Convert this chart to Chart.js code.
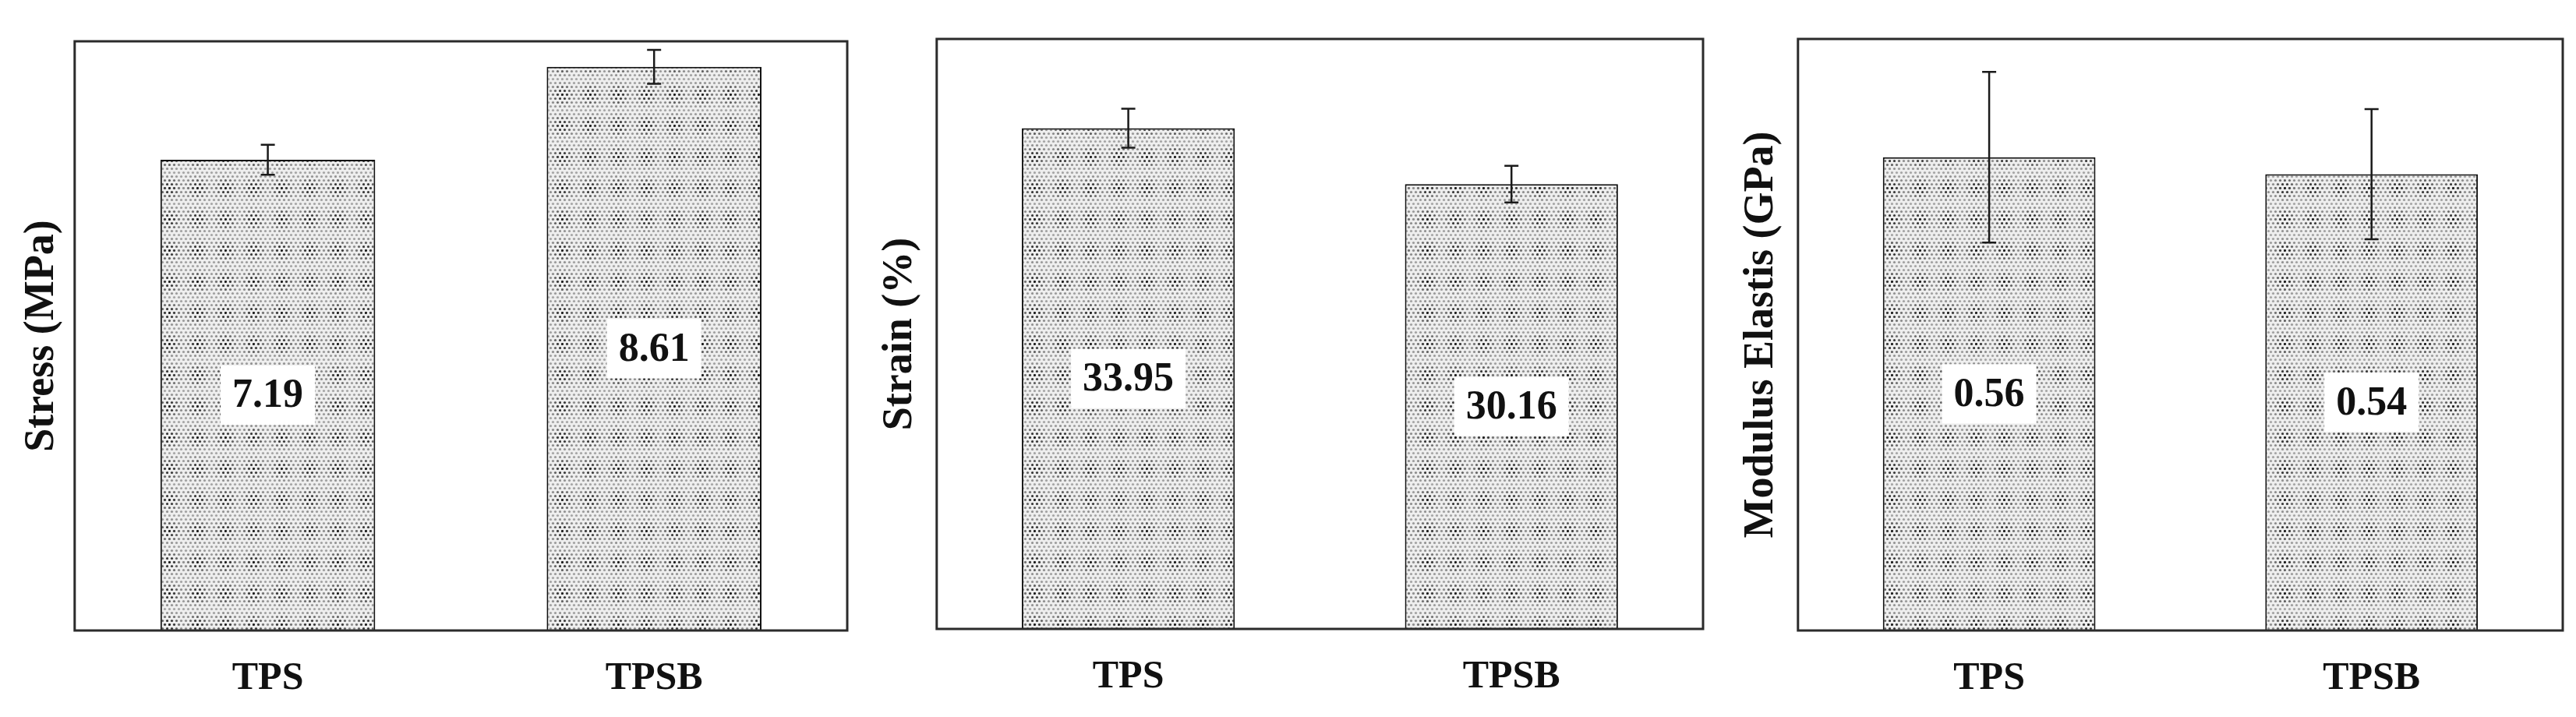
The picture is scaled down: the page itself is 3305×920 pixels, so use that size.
<!DOCTYPE html>
<html>
<head>
<meta charset="UTF-8">
<title>TPS vs TPSB</title>
<style>
  body { margin: 0; background: #fff; }
  #wrap { position: relative; width: 3305px; height: 920px; }
  canvas { position: absolute; top: 0; }
</style>
</head>
<body>
<div id="wrap">
  <canvas id="stress" width="1110" height="920" style="left:0px"></canvas>
  <canvas id="strain" width="1100" height="920" style="left:1110px"></canvas>
  <canvas id="modulus" width="1095" height="920" style="left:2210px"></canvas>
</div>
<script src="https://cdn.jsdelivr.net/npm/chart.js@4.4.0/dist/chart.umd.min.js"></script>
<script>
  // data
  const categories = ['TPS', 'TPSB']
  const stress = [7.19, 8.61]
  const stressErr = [0.23, 0.26]
  const strain = [33.95, 30.16]
  const strainErr = [1.32, 1.24]
  const modulus = [0.56, 0.54]
  const modulusErr = [0.101, 0.077]
  const axisMax = { stress: 9, strain: 40, modulus: 0.7 }

  const fontFamily = '"Liberation Serif", "Times New Roman", serif'

  // dotted plaid fill like the printed figure
  function makePattern() {
    const c = document.createElement('canvas')
    c.width = 36
    c.height = 40
    const g = c.getContext('2d')
    g.fillStyle = '#eeeeee'
    g.fillRect(0, 0, 36, 40)
    for (let y = 0; y < 40; y += 5) {
      const row = y / 5
      for (let x = (row % 2) * 3; x < 36; x += 6) {
        const wx = (Math.cos(2 * Math.PI * x / 36) + 1) / 2
        const wy = (Math.cos(2 * Math.PI * y / 40) + 1) / 2
        const a = 0.35 + 0.55 * wx * wy + 0.1 * wy
        g.fillStyle = 'rgba(30,30,30,' + a.toFixed(2) + ')'
        g.beginPath()
        g.arc(x + 1.5, y + 1.5, 1.6, 0, Math.PI * 2)
        g.fill()
      }
    }
    return c
  }
  const patternTile = makePattern()

  const framePlugin = {
    id: 'frame',
    afterDatasetsDraw(chart, args, opts) {
      const ctx = chart.ctx
      const meta = chart.getDatasetMeta(0)
      const yScale = chart.scales.y
      const errs = opts.errors
      ctx.save()
      // error bars
      ctx.strokeStyle = '#1a1a1a'
      ctx.lineWidth = 2.5
      meta.data.forEach((bar, i) => {
        const v = chart.data.datasets[0].data[i]
        const top = yScale.getPixelForValue(v + errs[i])
        const bot = yScale.getPixelForValue(v - errs[i])
        ctx.beginPath()
        ctx.moveTo(bar.x, top)
        ctx.lineTo(bar.x, bot)
        ctx.moveTo(bar.x - 9, top)
        ctx.lineTo(bar.x + 9, top)
        ctx.moveTo(bar.x - 9, bot)
        ctx.lineTo(bar.x + 9, bot)
        ctx.stroke()
      })
      // value labels in white boxes at mid-bar
      ctx.font = 'bold 52px ' + fontFamily
      ctx.textAlign = 'center'
      ctx.textBaseline = 'middle'
      meta.data.forEach((bar, i) => {
        const v = chart.data.datasets[0].data[i]
        const txt = v.toFixed(2)
        const cy = (bar.y + bar.base) / 2
        const w = ctx.measureText(txt).width + 30
        const h = 76
        ctx.fillStyle = '#ffffff'
        ctx.fillRect(bar.x - w / 2, cy - h / 2, w, h)
        ctx.fillStyle = '#111111'
        ctx.fillText(txt, bar.x, cy + 2)
      })
      // box around plot area
      const a = chart.chartArea
      ctx.strokeStyle = '#2b2b2b'
      ctx.lineWidth = 3
      ctx.strokeRect(a.left, a.top, a.right - a.left, a.bottom - a.top)
      ctx.restore()
    }
  }

  function makeChart(id, values, errors, max, title, pad, titlePad) {
    const ctx = document.getElementById(id).getContext('2d')
    const fill = ctx.createPattern(patternTile, 'repeat')
    return new Chart(ctx, {
      type: 'bar',
      data: {
        labels: categories,
        datasets: [{
          data: values,
          backgroundColor: fill,
          borderColor: '#111111',
          borderWidth: 2,
          categoryPercentage: 1,
          barPercentage: 0.556
        }]
      },
      plugins: [framePlugin],
      options: {
        responsive: false,
        animation: false,
        devicePixelRatio: 1,
        layout: { padding: pad },
        plugins: {
          legend: { display: false },
          tooltip: { enabled: false },
          frame: { errors: errors }
        },
        scales: {
          x: {
            grid: { display: false, drawTicks: false },
            border: { display: false },
            ticks: {
              padding: 32,
              color: '#111111',
              font: { family: fontFamily, size: 50, weight: 'bold' }
            }
          },
          y: {
            min: 0,
            max: max,
            grid: { display: false },
            border: { display: false },
            ticks: { display: false },
            title: {
              display: true,
              text: title,
              color: '#111111',
              padding: { top: 0, bottom: titlePad },
              font: { family: fontFamily, size: 54, weight: 'bold', lineHeight: 1.2 }
            }
          }
        }
      }
    })
  }

  makeChart('stress', stress, stressErr, axisMax.stress, 'Stress (MPa)',
    { left: 22, right: 23, top: 53, bottom: -13 }, 1)
  makeChart('strain', strain, strainErr, axisMax.strain, 'Strain (%)',
    { left: 13, right: 25, top: 50, bottom: -11 }, 6)
  makeChart('modulus', modulus, modulusErr, axisMax.modulus, 'Modulus Elastis (GPa)',
    { left: 18, right: 17, top: 50, bottom: -13 }, 6)
</script>
</body>
</html>
